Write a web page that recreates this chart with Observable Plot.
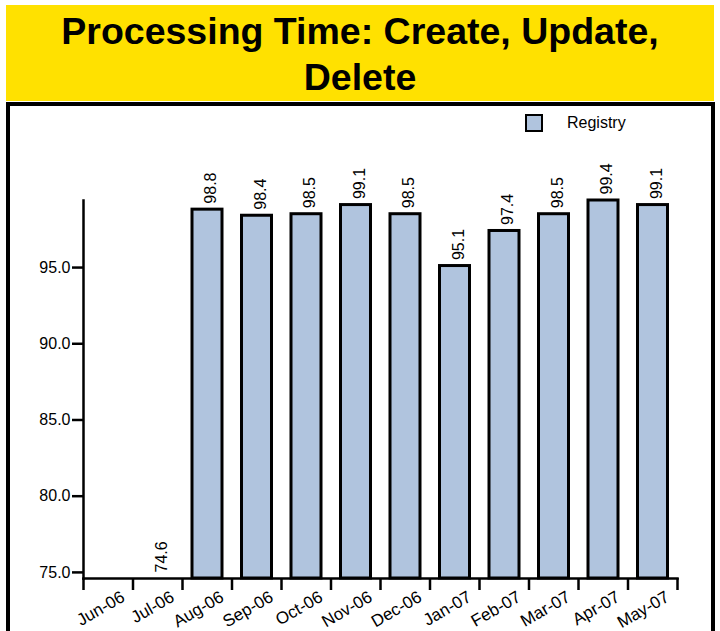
<!DOCTYPE html>
<html>
<head>
<meta charset="utf-8">
<script src="https://cdn.jsdelivr.net/npm/d3@7"></script>
<script src="https://cdn.jsdelivr.net/npm/@observablehq/plot@0.6"></script>
<style>
  html, body { margin: 0; padding: 0; background: #fff; }
  body { width: 720px; height: 631px; overflow: hidden; position: relative; font-family: "Liberation Sans", Arial, sans-serif; }
  #banner { position: absolute; left: 6px; top: 5px; width: 708px; height: 96px; background: #FFE100; }
  #banner div { padding-top: 3px; text-align: center; font-weight: bold; font-size: 37.5px; line-height: 46px; color: #000; white-space: pre-line; }
  #frame { position: absolute; left: 6px; top: 102px; width: 701px; height: 540px; border: 4px solid #000; box-sizing: content-box; }
  #chart { position: absolute; left: 0; top: 102px; }
  #legend { position: absolute; left: 525px; top: 114px; display: flex; align-items: center; font-size: 16px; color: #000; }
  #legend .sw { width: 14px; height: 14px; border: 2.5px solid #000; margin-right: 24px; }
</style>
</head>
<body>
<div id="banner"><div id="title"></div></div>
<div id="frame"></div>
<div id="chart"></div>
<div id="legend"><div class="sw"></div><span id="legendLabel"></span></div>
<script>
const titleText = "Processing Time: Create, Update,\nDelete";
const seriesName = "Registry";
const categories = ["Jun-06","Jul-06","Aug-06","Sep-06","Oct-06","Nov-06","Dec-06","Jan-07","Feb-07","Mar-07","Apr-07","May-07"];
const values = [null, 74.6, 98.8, 98.4, 98.5, 99.1, 98.5, 95.1, 97.4, 98.5, 99.4, 99.1];
const yTicks = [75, 80, 85, 90, 95];
const yMin = 74.6, yMax = 99.4;
const barColor = "#B0C4DE";

document.getElementById("title").textContent = titleText;
document.getElementById("legendLabel").textContent = seriesName;
document.querySelector("#legend .sw").style.background = barColor;

const data = categories.map((c, i) => ({cat: c, i, value: values[i]}));
const withValue = data.filter(d => d.value != null);

const chart = Plot.plot({
  width: 720,
  height: 529,
  marginLeft: 83,
  marginRight: 43,
  marginTop: 98,
  marginBottom: 53,
  style: {fontFamily: "Liberation Sans, Arial, sans-serif", fontSize: "16px", color: "#000", background: "transparent", overflow: "visible"},
  x: {domain: [0, categories.length], axis: null},
  y: {domain: [yMin, yMax], axis: null},
  marks: [
    Plot.rectY(withValue, {x1: d => d.i, x2: d => d.i + 1, y1: yMin, y2: "value", insetLeft: 10, insetRight: 9.5, fill: barColor, stroke: "#000", strokeWidth: 3}),
    Plot.axisY({ticks: yTicks, tickFormat: d3.format(".1f"), tickSize: 11, tickPadding: 2, strokeWidth: 2.5, fontSize: 16, label: null}),
    Plot.axisX({ticks: d3.range(categories.length + 1), tickFormat: () => "", tickSize: 12, strokeWidth: 2.5, label: null}),
    Plot.frame({anchor: "left", strokeWidth: 2.5}),
    Plot.frame({anchor: "bottom", strokeWidth: 2.5}),
    Plot.text(data, {x: d => d.i + 0.5, y: yMin, text: "cat", rotate: -30, textAnchor: "end", dx: 15, dy: 17, fontSize: 17, fill: "#000"}),
    Plot.text(withValue, {x: d => d.i + 0.5, y: "value", text: d => d.value.toFixed(1), rotate: -90, textAnchor: "start", dx: 4, dy: -6, fontSize: 16, fill: "#000"})
  ]
});
document.getElementById("chart").appendChild(chart);
</script>
</body>
</html>
